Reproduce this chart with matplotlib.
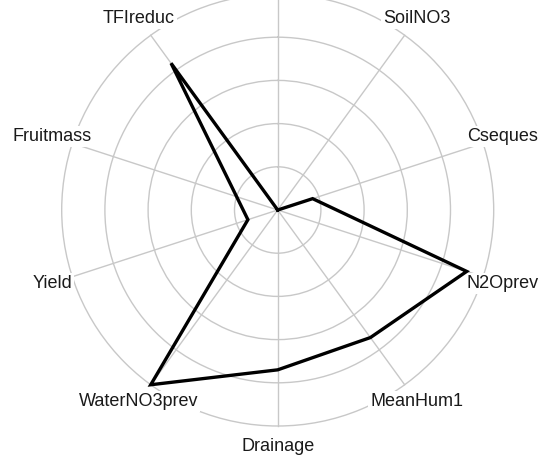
import matplotlib.pyplot as plt
import numpy as np

plt.rcParams["font.family"] = ["Liberation Sans", "DejaVu Sans"]

# Axis names, clockwise from the top (top label is cut off in the reference)
categories = ["", "SoilNO3", "Cseques", "N2Oprev", "MeanHum1",
              "Drainage", "WaterNO3prev", "Yield", "Fruitmass", "TFIreduc"]
# Values (outer ring = 1.0)
values = [0.0, 0.0, 0.17, 0.92, 0.73, 0.74, 1.0, 0.145, 0.2, 0.84]
ring_levels = [0.2, 0.4, 0.6, 0.8, 1.0]

W, H = 541, 457
fig = plt.figure(figsize=(W / 100, H / 100), dpi=100)

# Place the polar axes so the centre sits at (277.7, 210) px and r=1 is 216 px
cx, cy, R = 277.7, 210.0, 216.0
ax = fig.add_axes([(cx - R) / W, (H - cy - R) / H, 2 * R / W, 2 * R / H],
                  projection="polar")
ax.set_theta_offset(np.pi / 2)
ax.set_theta_direction(-1)

n = len(categories)
angles = np.arange(n) * 2 * np.pi / n

ax.set_ylim(0, 1.0)
ax.set_rgrids(ring_levels, labels=[])
ax.set_thetagrids(np.degrees(angles), labels=[])
ax.grid(True, color="#c8c8c8", linewidth=1.0)
ax.spines["polar"].set_visible(False)
ax.set_facecolor("none")
for gl in ax.yaxis.get_gridlines() + ax.xaxis.get_gridlines():
    gl.set_clip_on(False)

closed_a = np.append(angles, angles[0])
closed_v = np.append(values, values[0])
ax.plot(closed_a, closed_v, color="black", linewidth=2.4, clip_on=False,
        solid_joinstyle="miter", zorder=5)

for a, name in zip(angles, categories):
    if not name:
        continue
    ax.text(a, 1.097, name, ha="center", va="center", fontsize=13,
            color="#1a1a1a", clip_on=False, zorder=4,
            bbox=dict(facecolor="white", edgecolor="none", pad=1.5))

fig.savefig("out.png", dpi=100)
